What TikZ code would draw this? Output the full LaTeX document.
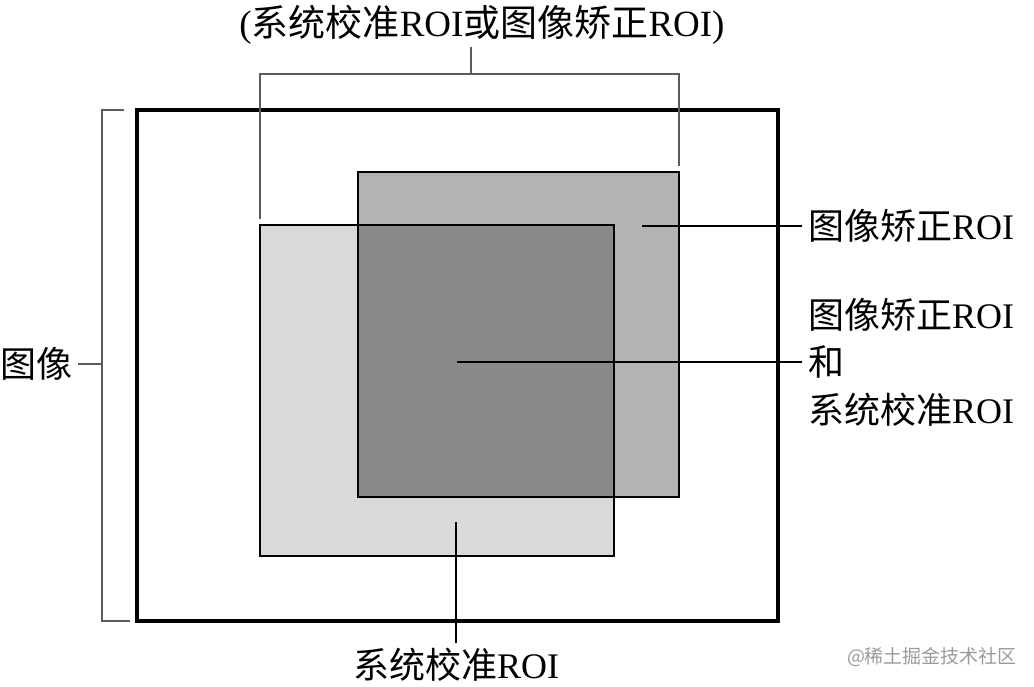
\documentclass[tikz,border=0pt]{standalone}
\usepackage{fontspec}
\setmainfont{Liberation Serif}
\newfontfamily\cjk{Noto Sans CJK SC}
\usepackage{xcolor}
\usepackage{tikz}
\usetikzlibrary{positioning}
\definecolor{lightroi}{HTML}{D9D9D9}
\definecolor{midroi}{HTML}{B3B3B3}
\definecolor{darkroi}{HTML}{8A8A8A}
\definecolor{brackx}{HTML}{5C5C5C}
\definecolor{markx}{HTML}{9A9A9A}
\newcommand{\zh}[1]{{\cjk #1}}
\tikzset{
  frame/.style={line width=3.6pt,black},
  roi/.style={draw=black,line width=1.2pt},
  lead/.style={black,line width=1.2pt},
  brk/.style={brackx,line width=1.4pt},
  lbl/.style={font=\fontsize{36}{47.5}\selectfont,inner sep=0pt,align=left},
  wmark/.style={font=\fontsize{19}{22}\selectfont\cjk,text=markx,inner sep=0pt}
}

\begin{document}
\begin{tikzpicture}[x=1pt,y=-1pt]
\useasboundingbox (0,0) rectangle (1034,687);
% corners of the two regions
\coordinate (sysA) at (260,225);
\coordinate (sysB) at (614,556);
\coordinate (corA) at (358,172);
\coordinate (corB) at (679,497);
\fill[lightroi] (sysA) rectangle (sysB);
\fill[midroi] (corA) rectangle (corB);
\fill[darkroi] (corA |- sysA) rectangle (sysB |- corB);
\draw[roi] (sysA) rectangle (sysB);
\draw[roi] (corA) rectangle (corB);
% whole image
\draw[frame] (137,110) rectangle (778,621);
% left bracket
\coordinate (imgMid) at (102,364);
\draw[brk] (124,110) -- (102,110) -- (102,621) -- (130,621);
\node[lbl,anchor=east] (imgLbl) at (73,364) {\zh{图像}};
\draw[brk] (imgMid) -- ([xshift=5pt]imgLbl.east);
% top bracket
\coordinate (topMid) at (471,74);
\coordinate (topTip) at (471,47);
\draw[brk] (260,219) -- (260,74) -- (679,74) -- (679,166);
\draw[brk] (topMid) -- (topTip);
\node[lbl,font=\fontsize{37}{47.5}\selectfont] (topLbl) at (482,25) {(\zh{系统校准}ROI\zh{或图像矫正}ROI)};
% labels and leaders
\coordinate (corDot) at (642,226);
\coordinate (bothDot) at (457,362);
\coordinate (sysDot) at (456,522);
\node[lbl,anchor=west] (corLbl) at (808,226) {\zh{图像矫正}ROI};
\node[lbl,anchor=west] (bothLbl) at (808,362) {\zh{图像矫正}ROI\\\zh{和}\\\zh{系统校准}ROI};
\node[lbl] (sysLbl) at (456,665) {\zh{系统校准}ROI};
\draw[lead] (corDot) -- ([xshift=-6pt]corLbl.west);
\draw[lead] (bothDot) -- ([xshift=-6pt]bothLbl.west);
\draw[lead] (sysDot) -- ([yshift=5pt]sysLbl.north);
\node[wmark] (markLbl) at (932,657) {@稀土掘金技术社区};
\end{tikzpicture}
\end{document}
